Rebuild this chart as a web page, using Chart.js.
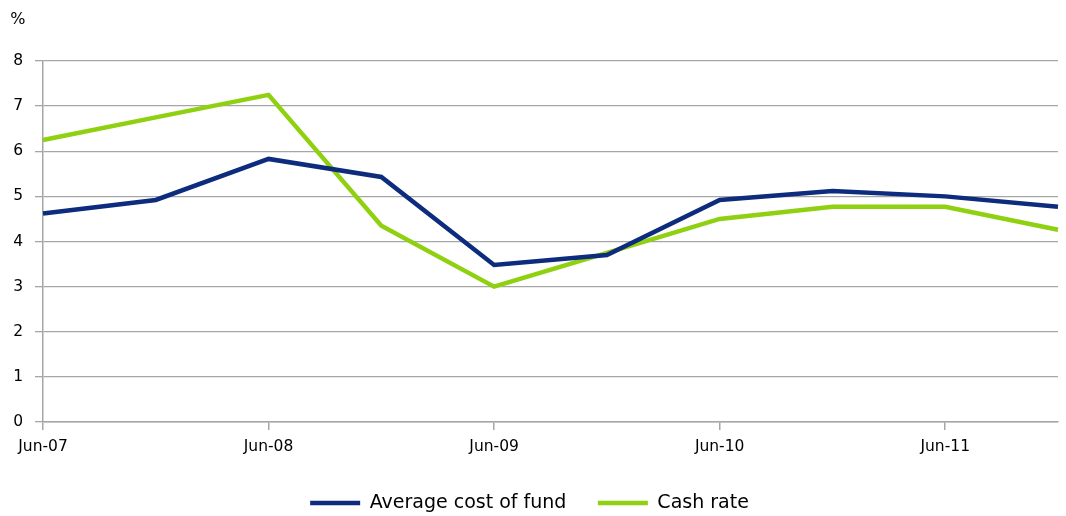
<!DOCTYPE html>
<html>
<head>
<meta charset="utf-8">
<script src="https://cdn.jsdelivr.net/npm/chart.js@4"></script>
<style>
  html, body { margin: 0; padding: 0; background: #fff; }
  #wrap { width: 1066px; height: 516px; }
</style>
</head>
<body>
<div id="wrap"><canvas id="chart"></canvas></div>
<script>
// half-yearly observations, Jun-07 to Dec-11
const periods = ['Jun-07', 'Dec-07', 'Jun-08', 'Dec-08', 'Jun-09', 'Dec-09', 'Jun-10', 'Dec-10', 'Jun-11', 'Dec-11'];
const avgCostOfFund = [4.62, 4.92, 5.83, 5.43, 3.48, 3.70, 4.92, 5.12, 5.00, 4.77];
const cashRate = [6.25, 6.75, 7.25, 4.35, 3.00, 3.75, 4.50, 4.77, 4.77, 4.26];
const yTicks = [0, 1, 2, 3, 4, 5, 6, 7, 8];

const gridGrey = '#a6a6a6';
const axisFont = { family: 'DejaVu Sans', size: 15.5 };

new Chart(document.getElementById('chart'), {
    type: 'line',
    data: {
        labels: periods,
        datasets: [{
            label: 'Average cost of fund',
            data: avgCostOfFund,
            borderColor: '#0d2c7d',
            backgroundColor: '#0d2c7d',
            borderWidth: 4.5,
            pointRadius: 0,
            pointStyle: 'line',
            tension: 0
        }, {
            label: 'Cash rate',
            data: cashRate,
            borderColor: '#8fd011',
            backgroundColor: '#8fd011',
            borderWidth: 4.5,
            pointRadius: 0,
            pointStyle: 'line',
            tension: 0
        }]
    },
    options: {
        responsive: true,
        maintainAspectRatio: false,
        animation: false,
        layout: { padding: { top: 0, right: 7, left: 0, bottom: -6.5 } },
        plugins: {
            title: {
                display: true,
                text: '  %',
                align: 'start',
                color: '#000',
                font: { family: 'DejaVu Sans', size: 16, weight: 'normal' },
                padding: { top: 10.4, bottom: 31.4 }
            },
            legend: {
                position: 'bottom',
                labels: {
                    color: '#000',
                    font: { family: 'DejaVu Sans', size: 19 },
                    usePointStyle: true,
                    pointStyleWidth: 50,
                    padding: 31.5
                }
            },
            tooltip: { enabled: false }
        },
        scales: {
            x: {
                offset: false,
                afterFit: axis => { axis.height = 40; },
                grid: {
                    drawOnChartArea: false,
                    drawTicks: true,
                    tickLength: 8,
                    color: ctx => (ctx.index % 2 === 0 ? gridGrey : 'rgba(0,0,0,0)'),
                    lineWidth: 1.5
                },
                border: { color: gridGrey, width: 1.5 },
                ticks: {
                    autoSkip: false,
                    maxRotation: 0,
                    color: '#000',
                    font: axisFont,
                    padding: 8,
                    callback: function (val, i) { return i % 2 === 0 ? periods[i] : ''; }
                }
            },
            y: {
                min: 0,
                max: 8,
                afterBuildTicks: axis => { axis.ticks = yTicks.map(v => ({ value: v })); },
                afterFit: axis => { axis.width = 43; },
                grid: {
                    color: gridGrey,
                    lineWidth: 1.3,
                    tickLength: 8
                },
                border: { color: gridGrey, width: 1.5 },
                ticks: {
                    color: '#000',
                    font: axisFont,
                    padding: 12
                }
            }
        }
    }
});
</script>
</body>
</html>
